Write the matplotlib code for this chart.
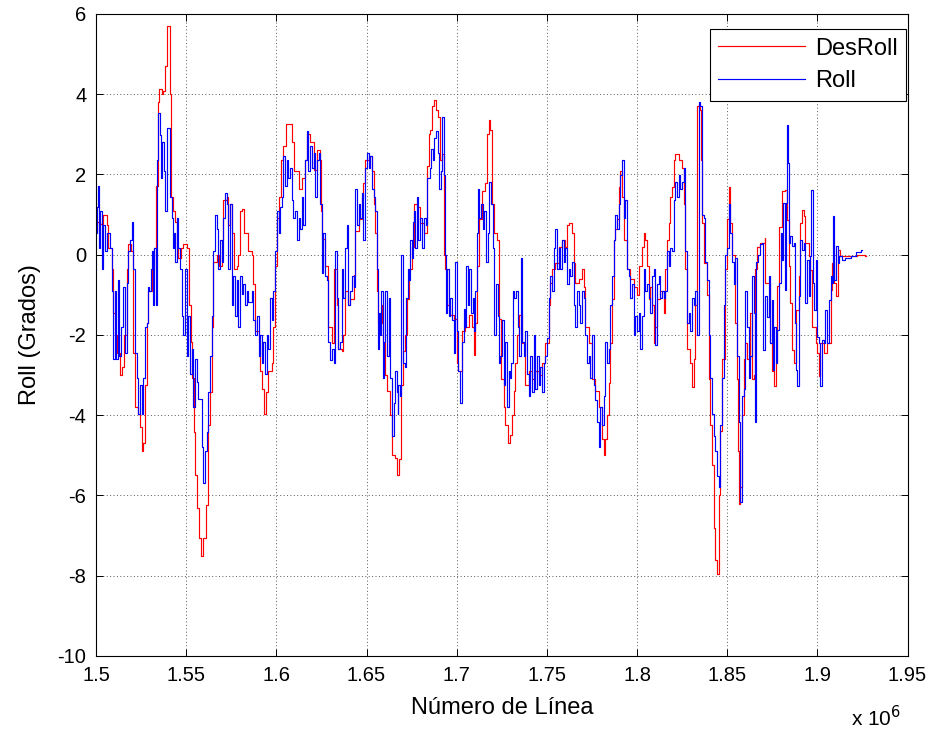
import numpy as np
import matplotlib
matplotlib.use("Agg")
import matplotlib.pyplot as plt

# ---------------- data (x in thousands of line number, y in degrees) ----------------
des_xk = [1500.0, 1500.4, 1502.2, 1504.1, 1505.9, 1506.8, 1508.7, 1509.6, 1510.5, 1511.5, 1513.3, 1514.3,
          1515.7, 1517.0, 1517.9, 1519.4, 1520.7, 1521.6, 1523.5, 1524.4, 1525.4, 1526.2, 1527.2,
          1528.1, 1529.0, 1530.9, 1532.4, 1533.3, 1534.2, 1535.1, 1536.5, 1537.3, 1538.3, 1539.2,
          1540.5, 1541.1, 1541.6, 1542.9, 1543.8, 1544.8, 1545.7, 1547.2, 1548.4, 1550.3, 1551.6,
          1552.7, 1553.4, 1554.4, 1554.9, 1555.9, 1557.2, 1558.1, 1559.5, 1561.0, 1562.3, 1563.3,
          1564.2, 1565.1, 1567.0, 1568.3, 1569.8, 1570.6, 1572.5, 1573.4, 1574.4, 1575.3, 1576.7,
          1578.1, 1579.0, 1579.9, 1581.2, 1582.3, 1584.5, 1586.4, 1587.3, 1588.2, 1590.1, 1591.0,
          1591.9, 1593.4, 1594.3, 1595.6, 1597.5, 1598.4, 1599.3, 1600.3, 1601.5, 1602.7, 1603.9,
          1605.3, 1607.1, 1608.6, 1610.0,
          1612.3, 1614.1, 1616.0, 1616.9, 1618.8, 1620.6, 1622.5, 1624.3, 1624.9, 1625.2, 1627.1,
          1628.9, 1630.8, 1631.7, 1633.6, 1634.4, 1636.3, 1637.2, 1638.2, 1640.0, 1640.9, 1642.8,
          1643.7, 1645.6, 1647.4, 1648.3, 1649.3, 1651.1, 1653.0, 1653.9, 1654.8, 1655.8, 1656.6,
          1658.5, 1659.4, 1660.4, 1661.3, 1663.1, 1664.1, 1665.9, 1666.9, 1668.1, 1669.2, 1670.5,
          1671.5, 1672.4, 1673.3, 1675.2, 1676.1, 1678.0, 1679.8, 1681.6, 1683.5, 1683.8, 1684.4,
          1685.3, 1686.3, 1687.2, 1688.5, 1689.6, 1690.5, 1691.8, 1692.7, 1693.7, 1694.6, 1696.4,
          1698.3, 1700.2, 1701.0, 1702.9, 1704.8, 1706.6, 1708.5, 1709.4, 1710.3, 1711.3, 1712.1,
          1714.0, 1715.9, 1716.8, 1717.7, 1718.6, 1719.6, 1720.5, 1722.3, 1723.2, 1724.7, 1726.0,
          1727.0, 1728.2, 1729.7, 1730.7, 1731.6, 1732.5, 1733.4, 1734.3, 1736.2, 1738.1, 1739.9,
          1741.8, 1743.6, 1745.4, 1747.3, 1749.1, 1751.0, 1751.9, 1752.9, 1754.7, 1756.5, 1758.4,
          1760.2, 1761.2, 1762.1, 1764.0, 1764.9, 1765.8, 1767.6, 1769.5, 1770.4, 1771.3, 1773.2,
          1775.1, 1776.9, 1778.7, 1780.6, 1781.5, 1782.4, 1783.4, 1784.3, 1785.2, 1786.2, 1787.1,
          1788.0, 1788.9, 1789.8, 1790.8, 1791.7, 1792.6, 1794.5, 1796.3, 1798.2, 1800.0, 1800.9,
          1802.8, 1803.7, 1804.6, 1805.6, 1806.5, 1807.4, 1808.4, 1809.3, 1810.2, 1811.1, 1813.0,
          1814.8, 1815.7, 1816.7, 1817.6, 1818.5, 1819.5, 1820.3, 1821.3, 1823.1, 1825.0, 1825.9,
          1826.8, 1827.8, 1829.6, 1830.6, 1831.4, 1832.4, 1833.3, 1834.6, 1835.2, 1835.7, 1836.1,
          1837.0, 1838.9, 1839.8, 1840.7, 1841.7, 1842.5, 1843.5, 1844.4, 1845.3, 1845.7, 1846.2,
          1847.2, 1849.0, 1850.0, 1850.9, 1851.4, 1852.7, 1854.6, 1855.5, 1856.1, 1856.4, 1857.3,
          1858.3, 1859.2, 1860.1, 1861.1, 1862.9, 1863.8, 1864.7, 1865.7, 1866.6, 1868.4, 1870.7,
          1871.2, 1874.0, 1874.9, 1875.8, 1876.8, 1877.7, 1878.6, 1880.5, 1882.3, 1883.3, 1884.2,
          1885.1, 1886.1, 1886.9, 1887.9, 1889.7, 1890.6, 1891.6, 1892.5, 1893.4, 1895.3, 1896.2,
          1897.1, 1899.0, 1899.9, 1900.8, 1901.7, 1903.6, 1905.4, 1907.3, 1908.2, 1909.1, 1910.6,
          1911.3, 1912.8, 1916.6, 1922.1, 1926.7, 1927.2]
des_y = [0.6, 0.82, 0.77, 1.0, 0.73, 0.18, -0.36, -1.44, -2.0, -2.44, -3.0, -2.8,
         -2.0, -0.36, 0.27, 0.1, -2.44, -3.8, -3.97, -4.3, -4.9, -4.7, -3.25,
         -1.7, -0.9, -0.36, 0.18, 1.72, 3.8, 4.12, 4.0, 4.07, 4.7, 5.7,
         5.7, 4.0, 1.45, 1.09, 0.82, 0.18, -0.09, 0.18, 0.27, 0.18, -1.26,
         -2.17, -3.07, -4.43, -5.5, -6.3, -7.05, -7.5, -7.05, -6.24, -4.25, -3.43,
         -1.8, -0.17, 0.0, -0.27, 0.37, 1.36, 1.45, 0.73, 1.27, 0.55, -0.36,
         -0.27, 0.0, 1.09, 1.13, 0.55, 0.1, 0.0, -0.72, -1.9, -2.17, -2.9,
         -3.34, -3.97, -3.43, -2.9, -2.7, -1.8, -0.27, 0.91, 1.45, 2.35, 2.72,
         3.26, 3.26, 2.8, 2.08,
         1.63, 1.9, 2.35, 3.0, 2.8, 2.1, 2.6, 2.35, 1.1, 0.4, -0.27,
         -1.8, -2.2, -0.36, -1.26, -2.35, -2.4, -2.0, -0.9, -1.26, -1.1, -0.5,
         0.6, 0.9, 1.45, 1.8, 2.35, 2.45, 2.08, 1.27, 0.55, -0.9, -1.7,
         -1.26, -2.2, -3.0, -3.4, -4.0, -5.0, -5.06, -5.5, -5.1, -3.25, -2.4,
         -2.0, -1.1, -0.36, 0.2, 1.27, 1.18, 0.8, 0.55, 1.1, 2.2, 3.0,
         3.1, 3.7, 3.85, 3.6, 3.44, 2.35, 2.5, 0.0, -0.36, -1.26, -1.5,
         -1.6, -2.7, -2.9, -1.9, -1.8, -1.5, -1.8, -2.5, -1.7, -0.27, 0.9,
         1.6, 1.8, 3.0, 3.35, 3.1, 1.27, 0.55, 0.37, -1.6, -3.1, -3.8,
         -4.25, -4.7, -4.5, -4.0, -3.4, -2.7, -2.0, -1.5, -2.2, -3.25, -2.9,
         -3.1, -2.9, -3.0, -2.7, -2.2, -1.26, -0.7, -0.36, -0.2, 0.2, 0.37,
         0.2, 0.73, 0.8, 0.55, -0.2, -0.7, -0.6, -0.36, -0.8, -1.8, -2.2,
         -3.1, -3.4, -3.8, -4.6, -5.0, -4.6, -4.0, -3.2, -2.2, -1.1, 0.37,
         0.64, 0.9, 1.7, 2.08, 1.45, 0.37, -0.36, -0.6, -0.8, -1.0, -0.27,
         0.2, 0.55, 0.37, -0.27, -1.1, -0.8, -1.26, -2.2, -1.8, -1.1, -0.9,
         -1.44, -0.36, 0.37, 0.8, 1.45, 1.7, 2.35, 2.5, 2.35, 2.17, 1.27,
         -0.36, -2.35, -2.7, -3.3, -2.6, -1.26, 3.7, 3.75, 3.6, 2.35, 0.8,
         -0.2, -1.0, -3.1, -4.25, -5.24, -6.8, -7.6, -7.95, -7.4, -6.0, -4.4,
         -2.6, -0.36, 0.9, 1.7, 0.8, 0.0, -1.7, -3.1, -4.9, -6.2, -5.8,
         -4.0, -2.6, -2.2, -2.6, -1.44, -3.1, -3.0, -0.36, 0.2, 0.3, 0.42,
         -0.7, -2.2, -2.9, -3.28, -2.7, -0.79, 0.7, 1.58, 1.62, 0.87, -0.29,
         -1.2, -2.37, -2.7, -1.37, -0.54, 0.79, 1.12, 0.96, 0.29, -0.04, -0.37,
         -1.79, -2.2, -2.45, -3.03, -2.2, -2.45, -2.2, -0.87, -0.21, -0.7, -1.04,
         0.12, -0.04, -0.02, 0.0, -0.04, -0.04]

roll_xk = [1500.0, 1500.4, 1501.3, 1501.7, 1502.2, 1503.2, 1504.1, 1505.0, 1505.9, 1507.8, 1508.7,
           1509.6, 1510.5, 1511.1, 1512.0, 1512.8, 1513.9, 1515.1, 1516.1, 1517.0, 1517.9, 1518.9,
           1519.8, 1520.7, 1521.6, 1522.6, 1523.5, 1524.4, 1525.4, 1526.2, 1527.2, 1528.1, 1528.7,
           1529.4, 1530.5, 1531.2, 1531.8, 1532.4, 1533.3, 1533.8, 1534.6, 1535.5, 1536.1, 1536.8,
           1537.6, 1538.3, 1539.2, 1540.5, 1541.1, 1542.0, 1542.6, 1543.3, 1543.8, 1544.8, 1545.7,
           1546.6, 1547.6, 1548.4, 1549.4, 1550.3, 1551.2, 1552.2, 1553.1, 1554.0, 1554.9, 1555.9,
           1556.8, 1557.7, 1558.7, 1559.5, 1560.5, 1561.4, 1562.3, 1563.3, 1564.2, 1565.1, 1566.0,
           1567.0, 1567.9, 1568.8, 1569.8, 1570.6, 1571.6, 1572.5, 1573.4, 1574.4, 1575.3, 1576.2,
           1577.1, 1578.1, 1579.0, 1579.9, 1580.8, 1581.7, 1582.7, 1583.6, 1584.5, 1586.4, 1587.3,
           1588.2, 1589.2, 1590.1, 1591.0, 1591.9, 1592.8, 1593.8, 1594.7, 1595.6, 1596.6, 1597.5,
           1598.4, 1599.3, 1600.3, 1601.2, 1602.1, 1603.0, 1603.9, 1604.9, 1605.8, 1606.7, 1607.7,
           1608.6, 1609.5, 1610.4, 1611.4, 1612.3, 1613.2, 1614.1, 1615.0, 1616.0, 1616.9, 1617.8,
           1618.8, 1619.7, 1620.6, 1621.5, 1622.5, 1623.4, 1624.3, 1625.2, 1626.1, 1627.1, 1628.0,
           1628.9, 1629.8, 1630.8, 1631.7, 1632.6, 1633.6, 1634.4, 1635.4, 1636.3, 1637.2, 1638.2,
           1639.1, 1640.0, 1640.9, 1641.9, 1642.8, 1643.7, 1644.7, 1645.6, 1646.5, 1647.4, 1648.3,
           1649.3, 1650.2, 1651.1, 1652.0, 1653.0, 1653.9, 1654.8, 1655.8, 1656.3, 1657.0, 1657.6,
           1658.1, 1658.9, 1659.6, 1660.4, 1661.3, 1662.2, 1663.1, 1664.1, 1665.0, 1665.9, 1666.9,
           1667.2, 1667.7, 1668.7, 1669.2, 1670.0, 1671.1, 1672.0, 1673.0, 1673.7, 1674.2, 1675.2,
           1675.7, 1676.5, 1677.0, 1678.0, 1678.8, 1679.8, 1680.7, 1681.6, 1683.0, 1683.8, 1685.0,
           1685.9, 1686.6, 1687.6, 1688.5, 1689.4, 1690.3, 1691.3, 1691.8, 1692.7, 1693.3, 1694.1,
           1694.9, 1695.5, 1696.4, 1697.4, 1698.3, 1699.2, 1700.2, 1701.0, 1702.0, 1702.9, 1703.8,
           1704.8, 1705.3, 1706.3, 1707.0, 1707.9, 1708.8, 1709.8, 1710.3, 1711.0, 1711.6, 1712.5,
           1713.5, 1714.4, 1715.3, 1716.2, 1717.1, 1718.1, 1719.0, 1719.9, 1720.8, 1721.8, 1722.7,
           1723.6, 1724.2, 1725.1, 1726.0, 1727.0, 1727.9, 1728.8, 1729.7, 1730.3, 1731.0, 1731.9,
           1732.9, 1733.8, 1734.7, 1735.7, 1736.2, 1737.1, 1738.1, 1739.0, 1739.9, 1740.8, 1741.8,
           1742.7, 1743.6, 1744.5, 1745.4, 1746.4, 1747.3, 1748.2, 1749.1, 1750.1, 1751.0, 1751.9,
           1752.9, 1753.8, 1754.7, 1755.6, 1756.5, 1757.5, 1758.4, 1759.3, 1760.2, 1761.2, 1762.1,
           1763.0, 1764.0, 1764.9, 1765.8, 1766.7, 1767.6, 1768.6, 1769.5, 1770.4, 1771.3, 1772.3,
           1773.2, 1774.1, 1775.1, 1776.0, 1776.9, 1777.8, 1778.7, 1779.7, 1780.6, 1781.5, 1782.4,
           1783.4, 1784.3, 1785.2, 1786.2, 1787.1, 1788.0, 1788.9, 1789.8, 1790.8, 1791.7, 1792.6,
           1793.5, 1794.5, 1795.4, 1796.3, 1797.3, 1798.2, 1799.1, 1800.0, 1800.9, 1801.9, 1802.8,
           1803.7, 1804.6, 1805.6, 1806.5, 1807.4, 1808.4, 1809.3, 1810.2, 1811.1, 1812.0, 1813.0,
           1813.9, 1814.8, 1815.7, 1816.7, 1817.6, 1818.5, 1819.5, 1820.3, 1821.3, 1822.2, 1823.1,
           1824.1, 1825.0, 1825.9, 1826.8, 1827.8, 1828.7, 1829.6, 1830.6, 1831.4, 1832.4, 1833.3,
           1834.2, 1835.2, 1836.1, 1837.0, 1837.9, 1838.9, 1839.8, 1840.7, 1841.7, 1842.5, 1843.5,
           1844.4, 1845.3, 1846.2, 1847.2, 1848.1, 1849.0, 1850.0, 1850.9, 1851.8, 1852.7, 1853.6,
           1854.6, 1855.5, 1856.4, 1857.3, 1858.3, 1859.2, 1860.1, 1861.1, 1862.0, 1862.9, 1863.8,
           1864.7, 1865.3, 1866.1, 1867.2, 1868.1, 1869.4, 1870.0, 1871.2, 1872.2, 1873.1, 1874.0,
           1874.9, 1875.5, 1876.2, 1877.2, 1877.7, 1878.6, 1879.6, 1880.5, 1881.1, 1881.8, 1882.5,
           1882.9, 1883.6, 1884.2, 1885.1, 1886.1, 1886.9, 1887.5, 1888.3, 1888.9, 1889.7, 1890.6,
           1891.6, 1892.5, 1893.4, 1894.4, 1895.3, 1896.2, 1896.7, 1897.5, 1898.0, 1899.0, 1899.9,
           1900.8, 1901.7, 1902.7, 1903.6, 1904.5, 1905.4, 1906.4, 1907.3, 1908.2, 1908.8, 1909.5,
           1910.6, 1911.3, 1912.1, 1913.8, 1915.6, 1918.4, 1921.2, 1924.0, 1924.5]
roll_y = [0.55, 1.18, 1.72, 0.18, 1.1, -0.36, 0.73, 0.1, 0.55, 0.18, -0.9,
          -2.6, -0.9, -2.6, -0.63, -2.53, -1.8, -0.8, -2.44, -0.7, 0.1, 0.37,
          0.82, -0.36, -2.44, -3.07, -3.97, -3.25, -3.97, -3.07, -1.8, -1.7, -0.8,
          -0.9, -0.36, 0.1, -1.26, 0.18, -1.26, 2.35, 3.53, 2.99, 1.9, 2.8,
          2.08, 1.09, 3.17, 3.17, 1.45, 0.91, 0.18, 0.55, -0.18, 0.91, 0.18,
          -0.36, -1.53, -1.99, -0.36, -2.53, -1.53, -2.98, -2.35, -3.8, -2.6, -3.16,
          -3.6, -3.6, -4.79, -5.7, -4.88, -4.43, -3.43, -2.53, -1.53, 0.1, 1.0,
          0.64, -0.36, 0.37, -0.18, 0.91, 1.54, 1.27, -0.36, 1.27, -1.26, -0.54,
          -1.53, -0.63, -1.8, -0.54, -0.99, -0.72, -1.26, -0.9, -1.17, -0.9, -1.62,
          -1.99, -1.53, -2.53, -1.99, -2.7, -2.17, -2.98, -1.99, -2.35, -1.08, -1.62,
          -0.9, 0.1, 1.09, 0.55, 1.18, 1.45, 2.45, 1.72, 2.35, 1.9, 2.17,
          1.36, 0.91, 1.09, 0.37, 0.91, 0.64, 1.45, 0.73, 2.35, 3.08, 2.08,
          2.72, 2.17, 2.54, 1.45, 2.35, 2.54, 1.27, -0.45, 0.55, -0.54, -0.63,
          -2.17, -2.62, -2.35, -2.7, 0.1, -1.08, -2.35, -2.17, -0.36, -1.08, 0.18,
          0.73, -1.26, -0.9, -0.54, -0.81, 1.63, 0.73, 1.27, 0.91, 1.54, 0.37,
          2.17, 2.54, 2.17, 2.45, 1.63, 1.45, 1.09, -0.36, -2.35, -1.44, -1.99,
          -0.9, -3.07, -2.17, -0.9, -2.53, -1.08, -3.07, -4.52, -3.7, -2.9, -3.43,
          -3.97, -3.25, -3.52, 0.0, -2.7, -2.8, -1.08, -0.36, -0.63, 0.37, -0.09,
          0.82, 1.09, 0.18, 1.45, 0.37, 0.91, 0.18, 0.91, 0.73, 1.9, 2.17,
          2.63, 2.35, 2.9, 3.08, 2.54, 1.63, 2.08, 3.44, 1.99, 0.0, -1.44,
          -0.36, -1.53, -1.08, -1.62, -2.44, -0.18, -1.9, -2.9, -3.7, -2.17, -1.35,
          -1.8, -0.27, -1.26, -0.36, -1.44, -1.08, -1.9, -0.9, 0.55, 1.63, 0.91,
          1.27, 0.64, 1.09, -0.18, 0.55, 1.81, 1.27, 0.18, -1.99, -0.72, -1.53,
          -2.7, -2.53, -1.62, -3.25, -2.17, -3.8, -2.9, -3.07, -2.7, -0.9, -1.08,
          -0.9, -1.8, -2.53, -0.09, -2.17, -2.53, -1.9, -2.98, -3.52, -2.53, -3.43,
          -1.99, -3.34, -2.53, -3.25, -2.8, -3.43, -2.7, -2.53, -2.08, -1.08, -0.54,
          -0.9, 0.18, 0.64, -0.36, 0.18, -0.36, 0.37, -0.18, 0.18, -0.72, -0.36,
          -0.54, -0.18, -1.26, -1.8, -0.9, -1.26, -1.71, -0.9, -1.08, -1.99, -2.7,
          -2.53, -3.07, -1.99, -3.25, -3.61, -4.16, -4.79, -3.8, -4.25, -3.52, -2.17,
          -2.7, -2.35, -1.26, -0.54, 0.37, 1.0, 0.64, 1.27, 1.99, 2.35, 0.91,
          1.36, -0.36, -0.54, -1.08, -0.72, -1.99, -1.53, -1.9, -1.44, -2.35, -1.53,
          -0.36, -0.9, -0.72, -1.08, -1.44, -0.54, -0.36, -2.26, -0.72, -0.54, -1.08,
          -0.9, -1.08, -0.9, 0.1, -0.27, 0.18, 0.1, 1.36, 1.81, 1.45, 1.99,
          1.63, 1.81, 2.17, 0.1, -1.71, -1.44, -1.9, -1.08, -1.26, -0.9, -1.99,
          3.8, 3.71, 1.0, 0.91, -0.18, -0.63, -1.99, -3.07, -3.97, -4.52, -4.88,
          -5.51, -5.78, -4.25, -3.07, -1.26, 0.0, 0.18, 1.27, 0.55, -0.18, -0.72,
          -0.09, -2.53, -4.16, -6.15, -3.52, -3.34, -0.9, -1.8, -3.07, -2.53, -0.54,
          -1.44, -4.16, -0.18, 0.0, 0.27, 0.29, -2.37, -1.04, -1.54, -0.54, -2.2,
          -1.12, -2.87, -1.79, -2.7, -1.87, -0.71, 0.54, -0.12, 1.29, -0.87, 1.29,
          3.24, 2.29, 0.29, 0.46, 0.21, 0.29, -1.7, -2.87, -3.28, -1.04, 0.37,
          0.12, 0.29, -1.2, -0.12, -1.04, -0.04, 1.62, -0.71, -1.37, -0.12, -2.04,
          -2.2, -3.28, -2.12, -2.2, -1.37, -2.2, -1.12, -0.54, -0.71, 0.96, -0.62,
          0.21, -0.21, -0.04, -0.12, -0.08, -0.02, 0.06, 0.12, 0.12]

series_labels = ["DesRoll", "Roll"]
x_ticks = [1.5, 1.55, 1.6, 1.65, 1.7, 1.75, 1.8, 1.85, 1.9, 1.95]
x_tick_labels = ["1.5", "1.55", "1.6", "1.65", "1.7", "1.75", "1.8", "1.85", "1.9", "1.95"]
y_ticks = [-10, -8, -6, -4, -2, 0, 2, 4, 6]

# ---------------- drawing ----------------
plt.rcParams['font.family'] = ['Liberation Sans', 'DejaVu Sans']
plt.rcParams['axes.unicode_minus'] = False

fig = plt.figure(figsize=(9.35, 7.36), dpi=100)
ax = fig.add_axes([0.1027, 0.1087, 0.8679, 0.8723])

des_x = np.array(des_xk) / 1000.0
roll_x = np.array(roll_xk) / 1000.0

ax.plot(des_x, des_y, color='#ff0000', lw=0.85, drawstyle='steps-post', label=series_labels[0])
ax.plot(roll_x, roll_y, color='#0000ff', lw=0.85, drawstyle='steps-post', label=series_labels[1])

ax.set_xlim(1.5, 1.95)
ax.set_ylim(-10, 6)
ax.set_xticks(x_ticks)
ax.set_xticklabels(x_tick_labels)
ax.set_yticks(y_ticks)
ax.set_yticklabels([str(t) for t in y_ticks])

ax.grid(True, color='#5a5a5a', linestyle=(0, (1, 2.5)), linewidth=0.7)
ax.tick_params(direction='in', length=5, width=0.7, top=True, right=True,
               labelsize=14.5, pad=7, colors='black')
for sp in ax.spines.values():
    sp.set_linewidth(0.8)
    sp.set_color('black')

ax.set_xlabel("Número de Línea", fontsize=17)
ax.set_ylabel("Roll (Grados)", fontsize=17)
ax.xaxis.set_label_coords(0.5, -0.064)
ax.yaxis.set_label_coords(-0.068, 0.5)

fig.text(0.91, 0.008, "x 10$^{6}$", fontsize=15, ha='left', va='bottom')

leg = ax.legend(loc='upper right', bbox_to_anchor=(0.998, 0.976), fontsize=17,
                frameon=True, fancybox=False, framealpha=1, edgecolor='black',
                handlelength=3.7, handletextpad=0.4, borderpad=0.35,
                labelspacing=0.45, borderaxespad=0.0)
leg.get_frame().set_linewidth(0.8)

fig.savefig("out.png", dpi=100)
